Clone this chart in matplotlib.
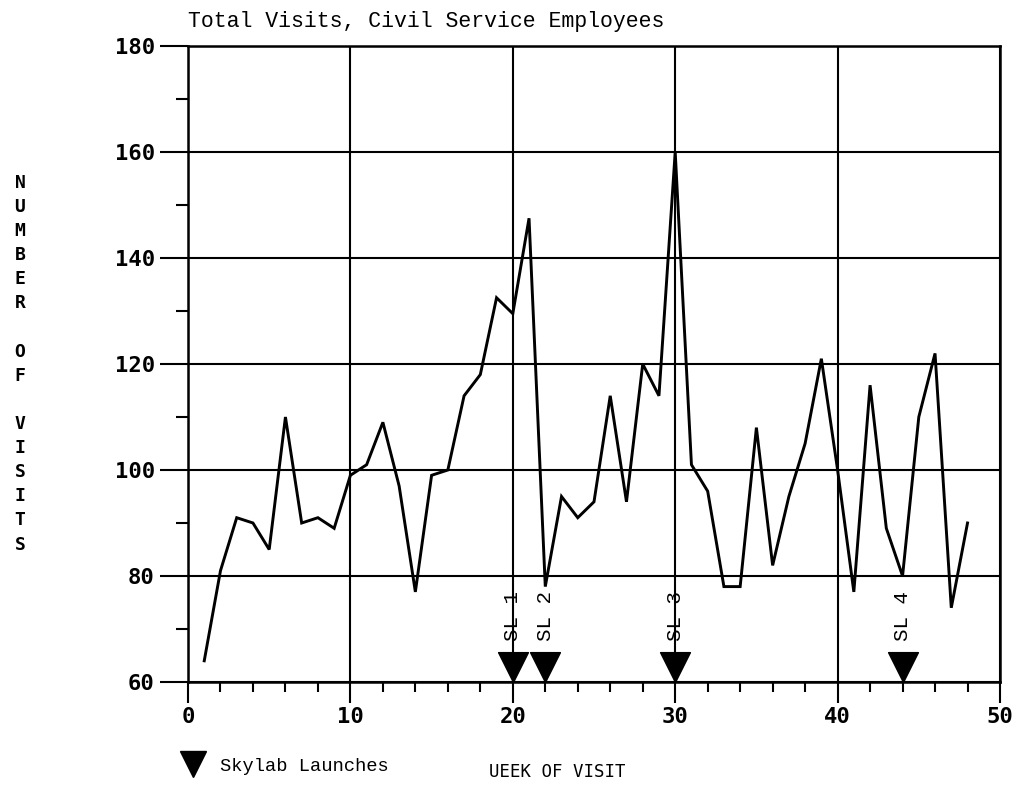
import numpy as np
import matplotlib.pyplot as plt
from matplotlib.lines import Line2D
from matplotlib.path import Path

# weekly visit counts, weeks 1-48
weeks = np.arange(1, 49)
visits = [64, 81, 91, 90, 85, 110, 90, 91, 89, 99,
          101, 109, 97, 77, 99, 100, 114, 118, 132.5, 129.5,
          147.5, 78, 95, 91, 94, 114, 94, 120, 114, 160,
          101, 96, 78, 78, 108, 82, 95, 105, 121, 100,
          77, 116, 89, 80, 110, 122, 74, 90]

# Skylab launch weeks
launch_weeks = [20, 22, 30, 44]
launch_names = ['SL 1', 'SL 2', 'SL 3', 'SL 4']

x_major = list(range(0, 51, 10))
x_minor = list(range(0, 51, 2))
y_major = list(range(60, 181, 20))
y_minor = list(range(70, 180, 20))

mono = 'Liberation Mono'
plotter = 'DejaVu Sans Mono'

W, H = 1019, 789
fig = plt.figure(figsize=(W / 100, H / 100), dpi=100)
ax = fig.add_axes([188 / W, 107 / H, 812 / W, 636 / H])

ax.plot(weeks, visits, color='black', lw=2.1, solid_joinstyle='miter', zorder=4)

ax.set_xlim(0, 50)
ax.set_ylim(60, 180)
ax.set_xticks(x_major)
ax.set_xticks(x_minor, minor=True)
ax.set_yticks(y_major)
ax.set_yticks(y_minor, minor=True)
ax.grid(which='major', color='black', lw=1.5)

ax.tick_params(axis='y', which='major', length=20, width=1.5, pad=4)
ax.tick_params(axis='y', which='minor', length=9, width=1.5)
ax.tick_params(axis='x', which='major', length=15, width=1.5, pad=3)
ax.tick_params(axis='x', which='minor', length=7, width=1.5)
for lbl in ax.get_xticklabels() + ax.get_yticklabels():
    lbl.set_fontfamily(plotter)
    lbl.set_fontweight('bold')
    lbl.set_fontsize(16)

for s in ax.spines.values():
    s.set_linewidth(1.8)

# launch markers: downward triangles with apex on the bottom axis
tri = Path([(0, 0), (-0.5, 1), (0.5, 1), (0, 0)],
           [Path.MOVETO, Path.LINETO, Path.LINETO, Path.CLOSEPOLY])
ax.plot(launch_weeks, np.zeros(len(launch_weeks)), transform=ax.get_xaxis_transform(),
        marker=tri, ms=43, ls='none', color='black', clip_on=False, zorder=5)
for w, name in zip(launch_weeks, launch_names):
    ax.text(w, 67.8, name, rotation=90, ha='center', va='bottom',
            fontfamily=mono, fontsize=15, zorder=6)

fig.text(188 / W, 1 - 22 / H, 'Total Visits, Civil Service Employees',
         fontfamily=mono, fontsize=15.5, ha='left', va='center')

# vertical stacked y label
ylabel = 'NUMBER OF VISITS'
for i, ch in enumerate(ylabel):
    fig.text(20 / W, 1 - (183 + i * 24.1) / H, ch, fontfamily=plotter,
             fontweight='bold', fontsize=13, ha='center', va='center')

fig.text(557 / W, 1 - 772 / H, 'UEEK OF VISIT', fontfamily=plotter,
         fontsize=12.5, ha='center', va='center')

fig.legend(handles=[Line2D([], [], marker='v', ls='none', color='black', ms=19)],
           labels=['Skylab Launches'], loc='center left',
           bbox_to_anchor=(184 / W, 1 - 766 / H), bbox_transform=fig.transFigure,
           frameon=False, prop={'family': mono, 'size': 13.5},
           handletextpad=0.9, borderpad=0, borderaxespad=0, handlelength=1.0)

fig.savefig('out.png', dpi=100)
